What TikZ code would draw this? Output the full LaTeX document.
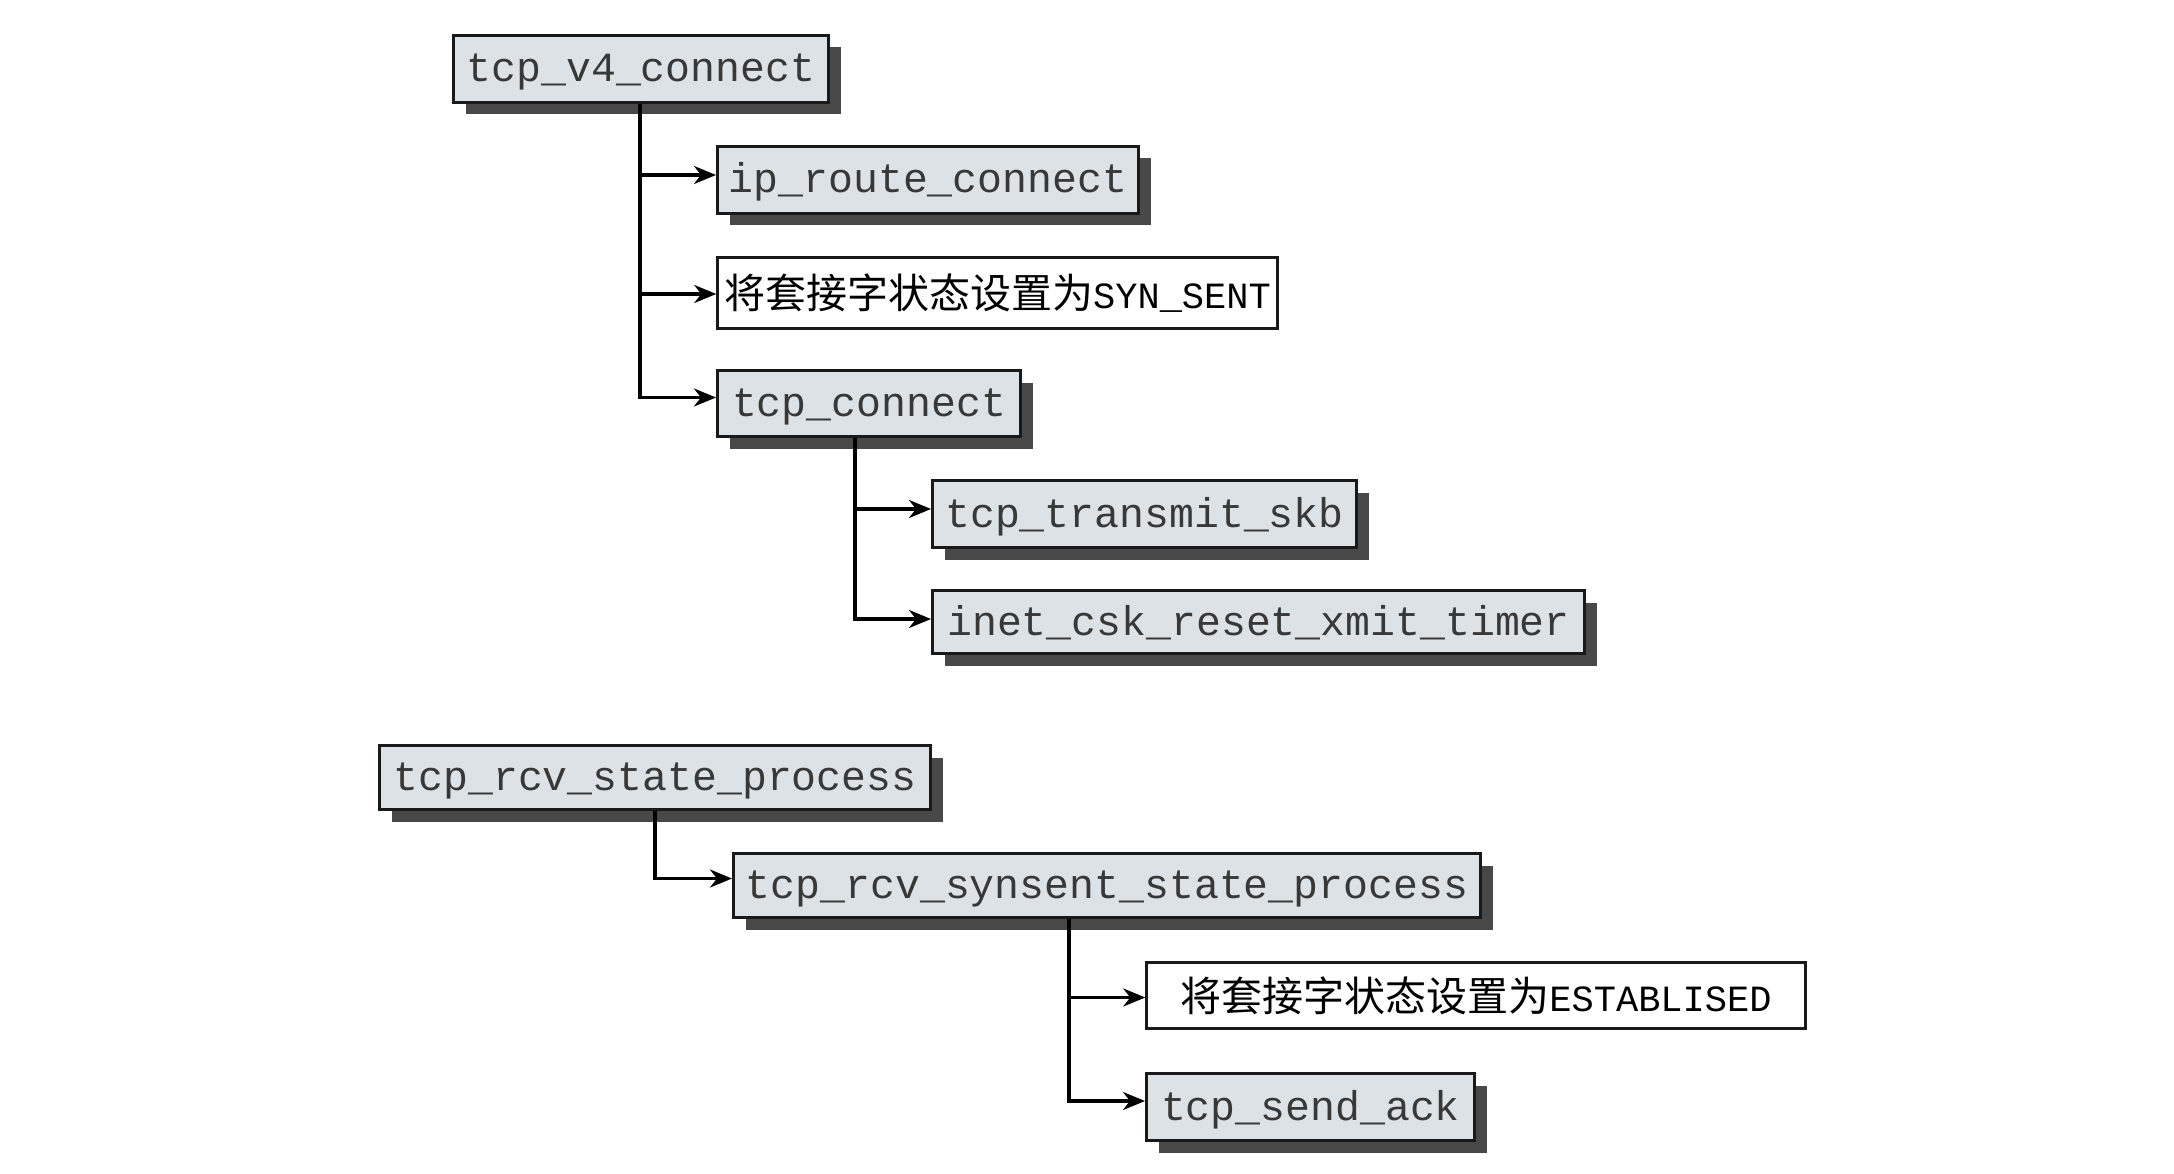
\documentclass[tikz,border=0pt]{standalone}
\usepackage{fontspec}
\setmonofont{Liberation Mono}
\newfontfamily\cjk{Noto Sans CJK SC}
\usetikzlibrary{arrows.meta,shadows}
\definecolor{boxfill}{RGB}{220,226,230}
\definecolor{shadowgray}{RGB}{72,72,72}
\definecolor{edge}{RGB}{25,25,25}
\begin{document}
\begin{tikzpicture}[x=1pt,y=-1pt,
  fn/.style={draw=edge, line width=3pt, fill=boxfill, inner sep=0pt,
    font=\ttfamily\fontsize{41.5}{48}\selectfont, text=black!78,
    text height=32pt, text depth=6pt,
    drop shadow={shadow xshift=12pt, shadow yshift=-12pt, fill=shadowgray, opacity=1}},
  note/.style={draw=edge, line width=2.5pt, fill=white, inner sep=0pt,
    font=\fontsize{41}{48}\selectfont, text=black},
  arr/.style={draw=black, line width=3.3pt, -{Stealth[length=22pt,width=18pt,inset=7pt]}}]
\useasboundingbox (0,0) rectangle (2174,1174);
\fill[white] (0,0) rectangle (2174,1174);

\newcommand{\lat}[1]{{\ttfamily\fontsize{37}{44}\selectfont #1}}

\node[fn, minimum width=375pt, minimum height=67pt] (v4) at (641,69) {tcp\_v4\_connect};
\node[fn, minimum width=421pt, minimum height=67pt] (ip) at (928,180) {ip\_route\_connect};
\node[note, minimum width=560pt, minimum height=71pt] (syn) at (997.5,293) {{\cjk 将套接字状态设置为}\lat{SYN\_SENT}};
\node[fn, minimum width=303pt, minimum height=66pt] (tc) at (869,403.5) {tcp\_connect};
\node[fn, minimum width=424pt, minimum height=67pt] (tx) at (1144.5,514) {tcp\_transmit\_skb};
\node[fn, minimum width=652pt, minimum height=63pt] (inet) at (1258.5,622) {inet\_csk\_reset\_xmit\_timer};

\node[fn, minimum width=551pt, minimum height=64pt] (rs) at (655,777.5) {tcp\_rcv\_state\_process};
\node[fn, minimum width=747pt, minimum height=64pt] (ss) at (1107,885.5) {tcp\_rcv\_synsent\_state\_process};
\node[note, minimum width=659pt, minimum height=66pt] (est) at (1476,995.5) {{\cjk 将套接字状态设置为}\lat{ESTABLISED}};
\node[fn, minimum width=328pt, minimum height=67pt] (ack) at (1310.5,1107) {tcp\_send\_ack};

\coordinate (v4x) at (640,0);
\coordinate (tcx) at (855,0);
\coordinate (rsx) at (655,0);
\coordinate (ssx) at (1069,0);

\draw[arr] (v4.south -| v4x) |- ([yshift=5pt]ip.west);
\draw[arr] (v4.south -| v4x) |- ([yshift=-1pt]syn.west);
\draw[arr] (v4.south -| v4x) |- ([yshift=6pt]tc.west);

\draw[arr] (tc.south -| tcx) |- ([yshift=5pt]tx.west);
\draw[arr] (tc.south -| tcx) |- ([yshift=3pt]inet.west);

\draw[arr] (rs.south -| rsx) |- ([yshift=7pt]ss.west);

\draw[arr] (ss.south -| ssx) |- ([yshift=-2pt]est.west);
\draw[arr] (ss.south -| ssx) |- ([yshift=6pt]ack.west);
\end{tikzpicture}
\end{document}
